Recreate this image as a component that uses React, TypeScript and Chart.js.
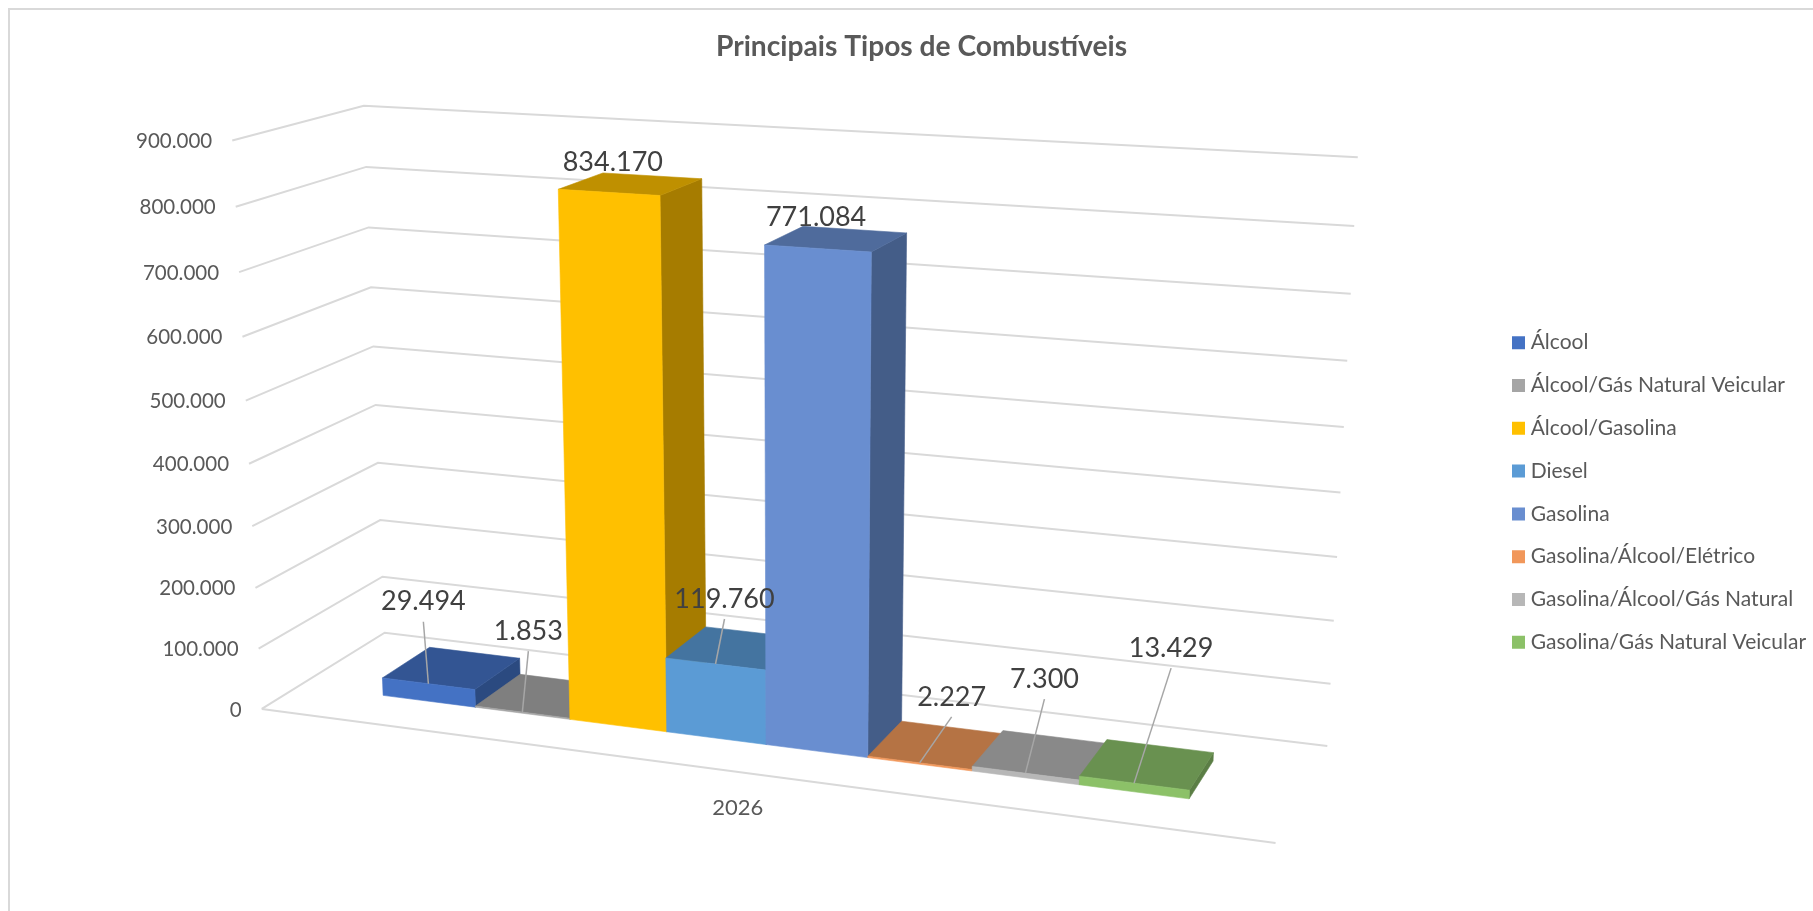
import React, { useEffect, useRef } from "react";
import { Chart, registerables } from "chart.js";

Chart.register(...registerables);

const categories = ["2026"];
const seriesNames = [
  "Álcool",
  "Álcool/Gás Natural Veicular",
  "Álcool/Gasolina",
  "Diesel",
  "Gasolina",
  "Gasolina/Álcool/Elétrico",
  "Gasolina/Álcool/Gás Natural",
  "Gasolina/Gás Natural Veicular",
];
const seriesValues = [29494, 1853, 834170, 119760, 771084, 2227, 7300, 13429];
const frontColors = ["#4472C4", "#A5A5A5", "#FFC000", "#5B9BD5", "#698ED0", "#F1975A", "#B7B7B7", "#8CC168"];
const topColors = ["#335593", "#7F7F7F", "#BF9000", "#4474A0", "#4F6B9C", "#B57344", "#898989", "#699150"];
const sideColors = ["#2B4A80", "#6E6E6E", "#A67C00", "#3C6590", "#445D88", "#9D6339", "#777777", "#5B7E45"];
// Offset of each value label from the front-top midpoint of its bar; [dx, dy]
const labelOffsets = [[-5, -82], [6, -81], [4, -30], [9, -65], [-1.5, -31], [32, -66], [19, -94], [37, -135]];
const leaderFlags = [true, true, false, true, false, true, true, true];

const AXIS_MAX = 900000;
const AXIS_STEP = 100000;
const DEPTH_NEAR = 0.3;
const DEPTH_FAR = 0.7;
const FONT = "Lato, Carlito, Calibri, sans-serif";

// Camera calibration: [x, h, z, px, py] for corners of the 3D plot box
const h = (v: number) => v / 9;
const cameraPoints: number[][] = [
  [0, h(0), 0, 262, 709], [0, h(1), 0, 258, 649], [0, h(2), 0, 255, 588], [0, h(3), 0, 253, 525],
  [0, h(4), 0, 250, 462], [0, h(5), 0, 246, 401], [0, h(6), 0, 242, 337], [0, h(7), 0, 239, 273],
  [0, h(8), 0, 235, 207], [0, h(9), 0, 232, 141],
  [0, h(0), 1, 384, 633], [0, h(1), 1, 383, 577], [0, h(4), 1, 375, 405], [0, h(5), 1, 374, 347],
  [0, h(6), 1, 371, 287], [0, h(7), 1, 369, 227], [0, h(8), 1, 366, 167], [0, h(9), 1, 364, 105],
  [1, h(0), 1, 1326, 746], [1, h(1), 1, 1331, 684], [1, h(2), 1, 1334, 621], [1, h(3), 1, 1337, 557],
  [1, h(4), 1, 1341, 492], [1, h(5), 1, 1344, 427], [1, h(6), 1, 1347, 361], [1, h(7), 1, 1351, 294],
  [1, h(8), 1, 1354, 226], [1, h(9), 1, 1357.5, 157],
  [1, h(0), 0, 1276, 843],
];

function fitCamera(points: number[][]): number[] {
  const n = 11;
  const ata = Array.from({ length: n }, () => new Array(n + 1).fill(0));
  const add = (row: number[], rhs: number) => {
    for (let i = 0; i < n; i++) {
      for (let j = 0; j < n; j++) ata[i][j] += row[i] * row[j];
      ata[i][n] += row[i] * rhs;
    }
  };
  points.forEach(([x, y, z, pxRaw, pyRaw]) => {
    const px = pxRaw / 1000;
    const py = pyRaw / 1000;
    add([x, y, z, 1, 0, 0, 0, 0, -px * x, -px * y, -px * z], px);
    add([0, 0, 0, 0, x, y, z, 1, -py * x, -py * y, -py * z], py);
  });
  for (let c = 0; c < n; c++) {
    let p = c;
    for (let r = c + 1; r < n; r++) if (Math.abs(ata[r][c]) > Math.abs(ata[p][c])) p = r;
    [ata[c], ata[p]] = [ata[p], ata[c]];
    for (let r = 0; r < n; r++) {
      if (r === c) continue;
      const f = ata[r][c] / ata[c][c];
      for (let k = c; k <= n; k++) ata[r][k] -= f * ata[c][k];
    }
  }
  return ata.map((row, i) => row[n] / row[i]);
}

const cam = fitCamera(cameraPoints);
function project(x: number, y: number, z: number): [number, number] {
  const w = cam[8] * x + cam[9] * y + cam[10] * z + 1;
  return [
    (1000 * (cam[0] * x + cam[1] * y + cam[2] * z + cam[3])) / w,
    (1000 * (cam[4] * x + cam[5] * y + cam[6] * z + cam[7])) / w,
  ];
}

function poly(ctx: CanvasRenderingContext2D, pts: [number, number][], color: string) {
  ctx.beginPath();
  pts.forEach((p, i) => (i ? ctx.lineTo(p[0], p[1]) : ctx.moveTo(p[0], p[1])));
  ctx.closePath();
  ctx.fillStyle = color;
  ctx.strokeStyle = color;
  ctx.lineWidth = 0.6;
  ctx.fill();
  ctx.stroke();
}

const LEGEND_TEXT_LEFT = 1530.7;
const LEGEND_CENTER_Y = 492.5;

const perspectivePlugin = {
  id: "perspective3d",
  afterLayout(chart: any) {
    const lg = chart.legend;
    const pad = lg.options.labels.padding;
    const col = lg.columnSizes?.[0];
    const boxW = lg.options.labels.boxWidth;
    const size = lg.options.labels.font.size;
    // place the legend block where the reference has it
    const left = LEGEND_TEXT_LEFT - boxW - size / 2 - pad;
    const w = lg.width;
    lg.left = left;
    lg.right = left + w;
    const lineH = size + pad;
    const blockH = lineH * seriesNames.length;
    const top = LEGEND_CENTER_Y - blockH / 2 - pad / 2 - (lg.options.align === "start" ? 0 : 0);
    const hgt = lg.height;
    lg.top = top;
    lg.bottom = top + hgt;
    void col;
  },
  beforeDraw(chart: any) {
    const { ctx } = chart;
    ctx.save();
    ctx.fillStyle = "#FFFFFF";
    ctx.fillRect(0, 0, chart.width, chart.height);
    ctx.strokeStyle = "#D9D9D9";
    ctx.lineWidth = 2;
    ctx.strokeRect(9, 9, chart.width + 50, chart.height + 50);
    ctx.restore();
  },
  beforeDatasetsDraw(chart: any) {
    const { ctx } = chart;
    const xs = chart.scales.x;
    const ys = chart.scales.y;
    const fx = (px: number) => (px - xs.left) / xs.width;
    const fy = (v: number) => (ys.bottom - ys.getPixelForValue(v)) / ys.height;
    ctx.save();

    // walls, floor and grid
    ctx.strokeStyle = "#D9D9D9";
    ctx.lineWidth = 2;
    ctx.lineJoin = "miter";
    ys.ticks.forEach((tick: any) => {
      const t = fy(tick.value);
      const a = project(0, t, 0);
      const b = project(0, t, 1);
      const c = project(1, t, 1);
      ctx.beginPath();
      ctx.moveTo(a[0], a[1]);
      ctx.lineTo(b[0], b[1]);
      ctx.lineTo(c[0], c[1]);
      ctx.stroke();
    });
    const f0 = project(0, 0, 0);
    const f1 = project(1, 0, 0);
    ctx.beginPath();
    ctx.moveTo(f0[0], f0[1]);
    ctx.lineTo(f1[0], f1[1]);
    ctx.stroke();

    // axis text
    ctx.fillStyle = "#595959";
    ctx.font = `20.5px ${FONT}`;
    ctx.textAlign = "right";
    ctx.textBaseline = "middle";
    ys.ticks.forEach((tick: any) => {
      const a = project(0, fy(tick.value), 0);
      ctx.fillText(Number(tick.value).toLocaleString("pt-BR"), a[0] - 20, a[1] + 1);
    });
    ctx.textAlign = "center";
    ctx.font = `22px ${FONT}`;
    categories.forEach((label, i) => {
      const cx = fx(xs.getPixelForValue(i));
      const p = project(cx, 0, 0);
      ctx.fillText(label, p[0] + 1, p[1] + 36);
    });

    // bars, left to right so that each one overlaps its neighbour's side
    const bars = seriesValues.map((_, i) => chart.getDatasetMeta(i).data[0]);
    bars.forEach((el: any, i: number) => {
      const x0 = fx(el.x - el.width / 2);
      const x1 = fx(el.x + el.width / 2);
      const t = fy(seriesValues[i]);
      const n = DEPTH_NEAR;
      const d = DEPTH_FAR;
      poly(ctx, [project(x1, 0, n), project(x1, 0, d), project(x1, t, d), project(x1, t, n)], sideColors[i]);
      poly(ctx, [project(x0, t, n), project(x1, t, n), project(x1, t, d), project(x0, t, d)], topColors[i]);
      poly(ctx, [project(x0, 0, n), project(x1, 0, n), project(x1, t, n), project(x0, t, n)], frontColors[i]);
    });

    // value labels with leader lines
    bars.forEach((el: any, i: number) => {
      const a = project(fx(el.x), fy(seriesValues[i]), DEPTH_NEAR);
      const lx = a[0] + labelOffsets[i][0];
      const ly = a[1] + labelOffsets[i][1];
      if (leaderFlags[i]) {
        ctx.strokeStyle = "#A6A6A6";
        ctx.lineWidth = 1.5;
        ctx.beginPath();
        ctx.moveTo(lx, ly + 20);
        ctx.lineTo(a[0], a[1]);
        ctx.stroke();
      }
      ctx.fillStyle = "#404040";
      ctx.font = `27px ${FONT}`;
      ctx.textAlign = "center";
      ctx.textBaseline = "middle";
      ctx.fillText(seriesValues[i].toLocaleString("pt-BR"), lx, ly);
    });

    ctx.restore();
    return false;
  },
};

export default function App() {
  const ref = useRef<HTMLCanvasElement | null>(null);
  useEffect(() => {
    if (!ref.current) return;
    const chart = new Chart(ref.current, {
      type: "bar",
      data: {
        labels: categories,
        datasets: seriesNames.map((name, i) => ({
          label: name,
          data: [seriesValues[i]],
          backgroundColor: frontColors[i],
          borderWidth: 0,
          categoryPercentage: 0.814,
          barPercentage: 1,
        })),
      },
      options: {
        responsive: false,
        animation: false,
        devicePixelRatio: 1,
        layout: { padding: { left: 30, right: 0, top: 0, bottom: 0 } },
        scales: {
          x: { display: false },
          y: { display: false, min: 0, max: AXIS_MAX, ticks: { stepSize: AXIS_STEP } },
        },
        plugins: {
          title: {
            display: true,
            text: "Principais Tipos de Combustíveis",
            color: "#595959",
            font: { family: FONT, size: 28.2, weight: "bold" },
            padding: { top: 30, bottom: 12 },
          },
          legend: {
            position: "right",
            align: "start",
            labels: {
              usePointStyle: true,
              pointStyle: "rect",
              boxWidth: 3.4,
              boxHeight: 13,
              padding: 21.8,
              color: "#595959",
              font: { family: FONT, size: 21 },
            },
          },
          tooltip: { enabled: false },
        },
      } as any,
      plugins: [perspectivePlugin],
    });
    return () => chart.destroy();
  }, []);
  return (
    <div style={{ position: "absolute", left: 0, top: 0, width: 1813, height: 911, background: "#fff" }}>
      <canvas ref={ref} width={1813} height={911} style={{ display: "block" }} />
    </div>
  );
}
